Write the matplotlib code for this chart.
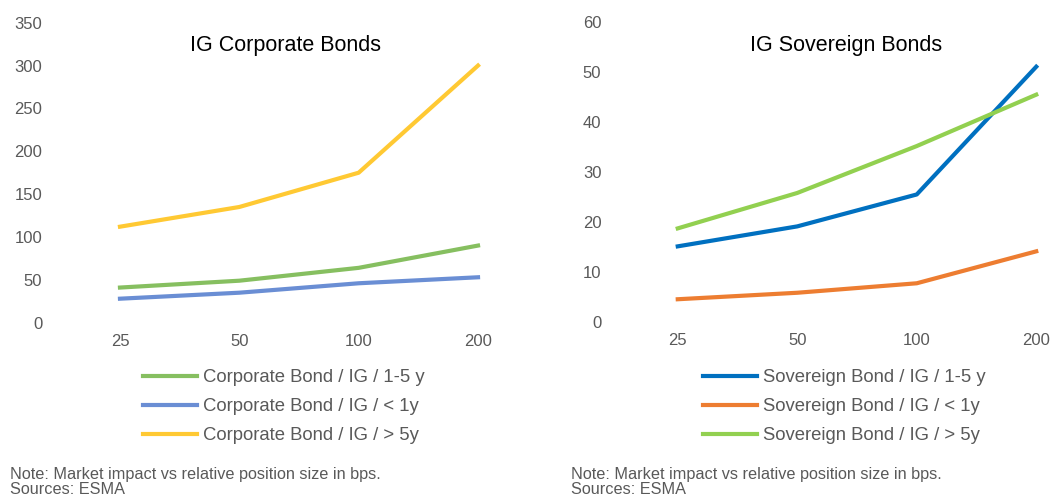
import matplotlib
matplotlib.use("Agg")
import matplotlib.pyplot as plt

plt.rcParams['font.family'] = ['Liberation Sans', 'DejaVu Sans']

sizes = ['25', '50', '100', '200']

# IG corporate bonds (market impact, bps)
corp_1_5y = [41, 49, 64, 90]
corp_lt_1y = [28, 35, 46, 53]
corp_gt_5y = [112, 135, 175, 300]
corp_labels = ['Corporate Bond / IG / 1-5 y', 'Corporate Bond / IG / < 1y',
               'Corporate Bond / IG / > 5y']

# IG sovereign bonds
sov_1_5y = [15.1, 19.1, 25.5, 51.1]
sov_lt_1y = [4.5, 5.8, 7.7, 14.1]
sov_gt_5y = [18.7, 25.8, 35.2, 45.5]
sov_labels = ['Sovereign Bond / IG / 1-5 y', 'Sovereign Bond / IG / < 1y',
              'Sovereign Bond / IG / > 5y']

note = "Note: Market impact vs relative position size in bps.\nSources: ESMA"
grey = '#595959'

W, H = 1055, 496
fig = plt.figure(figsize=(W / 100, H / 100), dpi=100)


def px_axes(x0, x1, ytop, ybot):
    return fig.add_axes([x0 / W, 1 - ybot / H, (x1 - x0) / W, (ybot - ytop) / H])


def style(ax, ymax, step, pad_y):
    ax.set_xlim(-0.5, 3.5)
    ax.set_ylim(0, ymax)
    ax.set_yticks(range(0, ymax + 1, step))
    ax.set_xticks(range(len(sizes)))
    ax.set_xticklabels(sizes)
    for s in ax.spines.values():
        s.set_visible(False)
    ax.tick_params(length=0, labelsize=12, labelcolor=grey)
    ax.tick_params(axis='y', pad=pad_y)
    ax.tick_params(axis='x', pad=8)
    ax.patch.set_alpha(0)


legend_kw = dict(loc='upper left', frameon=False, fontsize=13.3,
                 handlelength=2.95, handletextpad=0.3, labelspacing=0.66,
                 borderpad=0, borderaxespad=0, labelcolor=grey)

# left panel
ax1 = px_axes(60.3, 537.7, 22.7, 322.7)
x = range(len(sizes))
ax1.plot(x, corp_1_5y, color='#86BF60', lw=3, label=corp_labels[0])
ax1.plot(x, corp_lt_1y, color='#6A8ED4', lw=3, label=corp_labels[1])
ax1.plot(x, corp_gt_5y, color='#FFC933', lw=3, label=corp_labels[2])
style(ax1, 350, 50, 13)
fig.text(286 / W, 1 - 46 / H, 'IG Corporate Bonds', ha='center', va='center',
         fontsize=15.5, color='black')
ax1.legend(bbox_to_anchor=(143 / W, 1 - 369 / H),
           bbox_transform=fig.transFigure, **legend_kw)
fig.text(10 / W, 1 - 482 / H, note, ha='left', va='center', fontsize=11.7,
         color=grey, linespacing=1.05)

# right panel
ax2 = px_axes(618, 1096, 22.3, 321.7)
ax2.plot(x, sov_1_5y, color='#0070C0', lw=3, label=sov_labels[0])
ax2.plot(x, sov_lt_1y, color='#ED7D31', lw=3, label=sov_labels[1])
ax2.plot(x, sov_gt_5y, color='#92D050', lw=3, label=sov_labels[2])
style(ax2, 60, 10, 12)
fig.text(846 / W, 1 - 46 / H, 'IG Sovereign Bonds', ha='center', va='center',
         fontsize=15.5, color='black')
ax2.legend(bbox_to_anchor=(703 / W, 1 - 369 / H),
           bbox_transform=fig.transFigure, **legend_kw)
fig.text(571 / W, 1 - 482 / H, note, ha='left', va='center', fontsize=11.7,
         color=grey, linespacing=1.05)

fig.savefig('out.png', dpi=100)
